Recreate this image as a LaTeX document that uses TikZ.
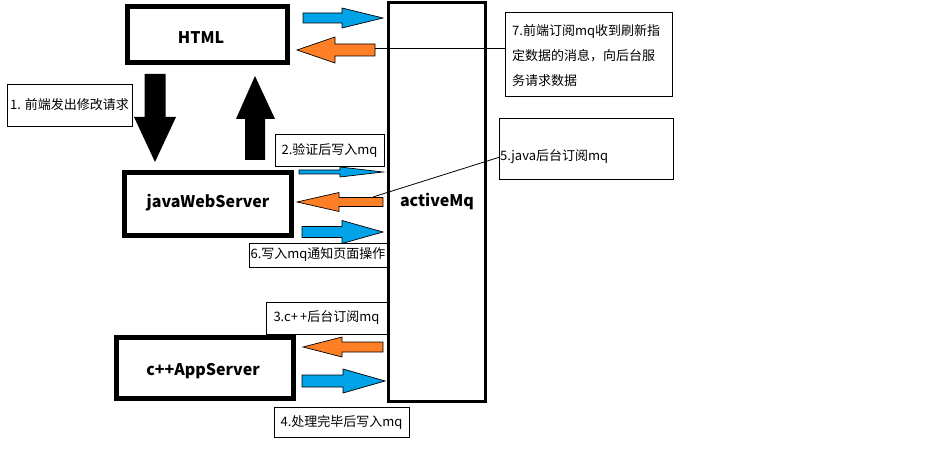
\documentclass[tikz,border=0pt]{standalone}
\usepackage{fontspec}
\setmainfont{Noto Sans CJK SC}
\definecolor{ablue}{RGB}{0,162,232}
\definecolor{aorange}{RGB}{255,127,39}
\newcommand{\blkarrow}[7]{%
  \filldraw[fill=#1, draw=black, line width=0.7pt, line join=miter]
    (#2,#4-#5) -- (#7,#4-#5) -- (#7,#4-#6) -- (#3,#4) -- (#7,#4+#6) -- (#7,#4+#5) -- (#2,#4+#5) -- cycle;}
\tikzset{
  mainbox/.style={draw=black, line width=5pt, fill=white},
  boldtxt/.style={inner sep=0pt, font=\fontsize{16}{18}\selectfont\bfseries},
  lbl/.style={draw=black, line width=0.8pt, fill=white, inner sep=2pt, font=\fontsize{13}{15}\selectfont},
}
\begin{document}
\begin{tikzpicture}[x=1pt,y=-1pt]
\useasboundingbox[fill=white] (0,0) rectangle (927,465);

% main boxes
\node[mainbox, minimum width=160pt, minimum height=56pt] (html) at (207,35) {};
\node[boldtxt] (htmlt) at (201,37.5) {HTML};
\node[mainbox, minimum width=167pt, minimum height=63pt] (java) at (207.5,204.5) {};
\node[boldtxt] (javat) at (208,203) {javaWebServer};
\node[mainbox, minimum width=177pt, minimum height=61pt] (cpp) at (204.5,367.5) {};
\node[boldtxt] (cppt) at (203,371) {c+{}+AppServer};

% black arrows
\fill[black] (144.5,74) -- (165.5,74) -- (165.5,117) -- (176,117) -- (155,162) -- (134,117) -- (144.5,117) -- cycle;
\fill[black] (245,160) -- (265,160) -- (265,119) -- (275,119) -- (255,76) -- (236,119) -- (245,119) -- cycle;

% labels
\node[lbl, minimum width=125pt, minimum height=42pt] (l1) at (69.5,105) {1. 前端发出修改请求};
\node[lbl, minimum width=109pt, minimum height=32pt] (l2) at (329.5,150) {2.验证后写入mq};
\node[lbl, minimum width=138pt, minimum height=24pt, inner sep=0pt] (l6) at (318,255) {6.写入mq通知页面操作};
\node[lbl, minimum width=121pt, minimum height=32pt] (l3) at (326.5,318) {3.c+\,+后台订阅mq};
\node[lbl, minimum width=135pt, minimum height=30pt] (l4) at (341.5,422) {4.处理完毕后写入mq};
\node[lbl, minimum width=174pt, minimum height=61pt] (l5) at (586,148.5) {};
\node[anchor=west, font=\fontsize{13}{15}\selectfont, inner sep=0pt] (l5t) at (500,157) {5.java后台订阅mq};
\node[lbl, minimum width=167pt, minimum height=84pt] (l7) at (588.5,54) {};
\node[anchor=north west, font=\fontsize{13}{15}\selectfont, inner sep=0pt, align=left] (l7t) at (512,24)
  {7.前端订阅mq收到刷新指\\[10pt]定数据的消息，向后台服\\[10pt]务请求数据};

% activeMq box
\node[draw=black, line width=3pt, fill=white, minimum width=97pt, minimum height=398pt] (mq) at (436.5,202) {};
\node[boldtxt] (mqt) at (437,202) {activeMq};

% colored arrows
\blkarrow{ablue}{303}{383}{18}{5}{10}{342}
\blkarrow{aorange}{375}{297}{50}{6}{13}{335}
\blkarrow{ablue}{299}{383}{172}{2}{5}{340}
\blkarrow{aorange}{383}{297}{202}{4.5}{9.5}{339}
\blkarrow{ablue}{302}{383}{232}{5.5}{11.5}{342}
\blkarrow{aorange}{383}{303}{347}{5}{10}{342}
\blkarrow{ablue}{302}{385}{381}{6}{12}{343}

% leader lines
\coordinate (o1) at (375,48);
\coordinate (o2) at (373,197);
\draw[line width=0.8pt] (o1) -- (l7.west |- o1);
\draw[line width=0.8pt] (o2) -- (l5t.west);
\end{tikzpicture}
\end{document}
